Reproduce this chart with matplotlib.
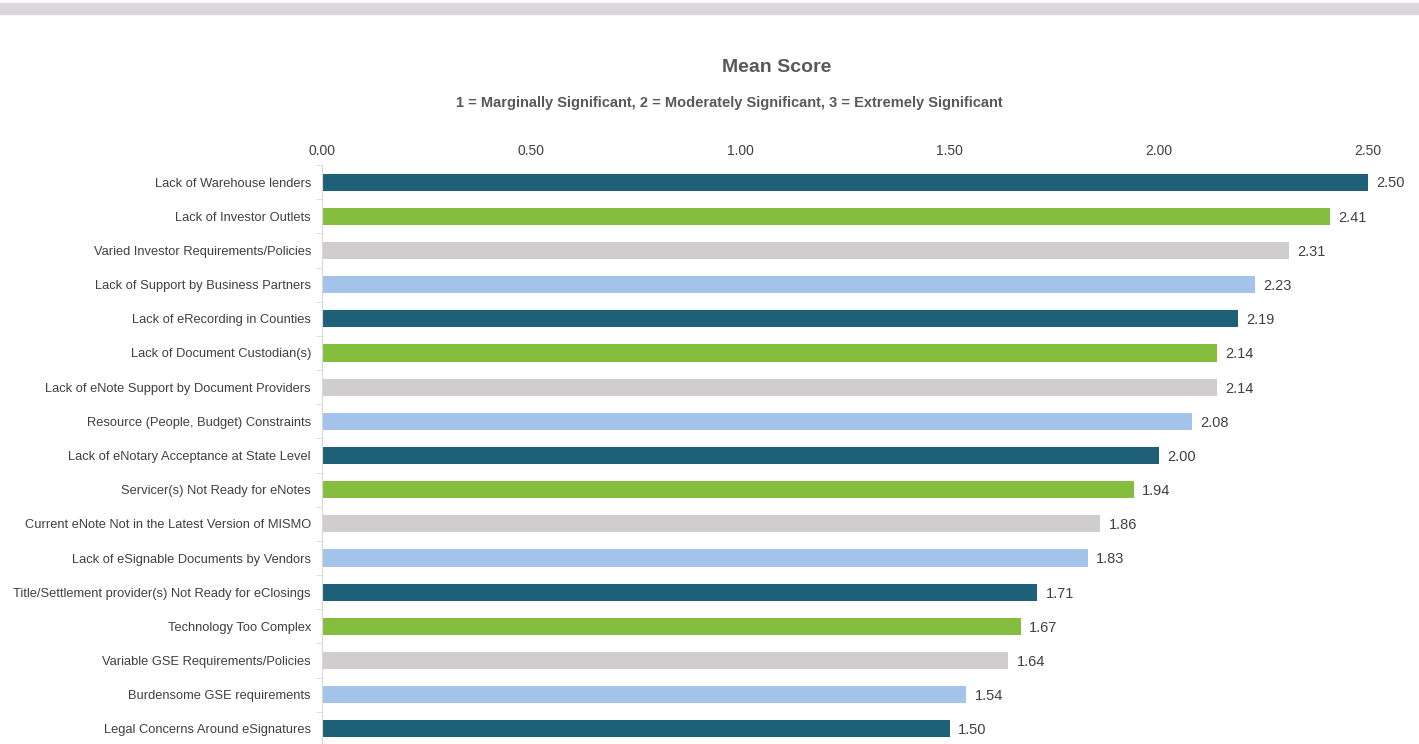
import matplotlib.pyplot as plt
import matplotlib.patches as patches
import numpy as np

plt.rcParams['font.family'] = ['Liberation Sans', 'DejaVu Sans']

# data (top to bottom as shown)
categories = [
    "Lack of Warehouse lenders",
    "Lack of Investor Outlets",
    "Varied Investor Requirements/Policies",
    "Lack of Support by Business Partners",
    "Lack of eRecording in Counties",
    "Lack of Document Custodian(s)",
    "Lack of eNote Support by Document Providers",
    "Resource (People, Budget) Constraints",
    "Lack of eNotary Acceptance at State Level",
    "Servicer(s) Not Ready for eNotes",
    "Current eNote Not in the Latest Version of MISMO",
    "Lack of eSignable Documents by Vendors",
    "Title/Settlement provider(s) Not Ready for eClosings",
    "Technology Too Complex",
    "Variable GSE Requirements/Policies",
    "Burdensome GSE requirements",
    "Legal Concerns Around eSignatures",
]
scores = [2.50, 2.41, 2.31, 2.23, 2.19, 2.14, 2.14, 2.08, 2.00,
          1.94, 1.86, 1.83, 1.71, 1.67, 1.64, 1.54, 1.50]
palette = ['#1F6079', '#85BD3F', '#CFCDCE', '#A3C3EA']
x_ticks = [0.0, 0.5, 1.0, 1.5, 2.0, 2.5]

W, H = 1419, 744
fig = plt.figure(figsize=(W / 100, H / 100), dpi=100)

# grey band at top
fig.patches.append(patches.Rectangle((0, 1 - 14 / H), 1, 11 / H, transform=fig.transFigure,
                                     color='#D9D7DC', zorder=0))

ax = fig.add_axes([322 / W, (744 - 746) / H, (1368 - 322) / W, 581 / H])

n = len(categories)
y = np.arange(n)
colors = [palette[i % 4] for i in range(n)]
ax.barh(y, scores, height=0.5, color=colors, zorder=2)

for yi, v in zip(y, scores):
    ax.annotate(f"{v:.2f}", (v, yi), xytext=(6, -1), textcoords='offset points',
                va='center', ha='left', fontsize=10.5, color='#404040')

ax.set_xlim(0, 2.5)
ax.set_ylim(n - 0.5, -0.5)
ax.xaxis.tick_top()
ax.set_xticks(x_ticks)
ax.set_xticklabels([f"{t:.2f}" for t in x_ticks], fontsize=10, color='#404040')
ax.tick_params(axis='x', length=0, pad=5)

ax.set_yticks(y)
ax.set_yticklabels(categories, fontsize=9.3, color='#404040')
ax.tick_params(axis='y', which='major', length=0, pad=8)
ax.set_yticks(np.arange(-0.5, n, 1), minor=True)
ax.tick_params(axis='y', which='minor', length=4, color='#D9D9D9', direction='out')

for s in ['top', 'right', 'bottom']:
    ax.spines[s].set_visible(False)
ax.spines['left'].set_color('#D9D9D9')

fig.text(777 / W, 1 - 68 / H, "Mean Score", ha='center', va='center',
         fontsize=14, fontweight='bold', color='#595959')
fig.text(729 / W, 1 - 103 / H,
         "1 = Marginally Significant, 2 = Moderately Significant, 3 = Extremely Significant",
         ha='center', va='center', fontsize=10.5, fontweight='bold', color='#595959')

fig.savefig('out.png', dpi=100)
